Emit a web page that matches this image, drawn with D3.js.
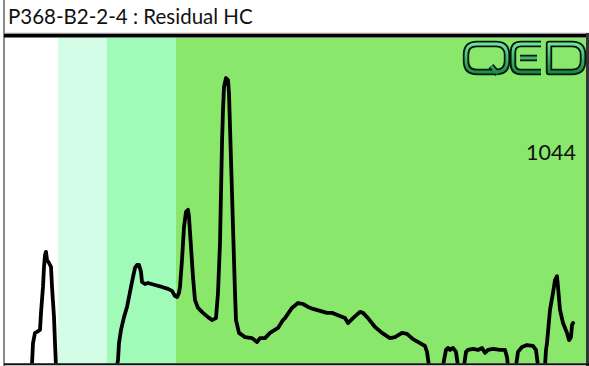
<!DOCTYPE html>
<html>
<head>
<meta charset="utf-8">
<script src="https://cdn.jsdelivr.net/npm/d3@7"></script>
<style>
  html, body { margin: 0; padding: 0; background: #ffffff; }
  svg { display: block; }
</style>
</head>
<body>
<svg id="chart" width="589" height="366"></svg>
<script>
// Residual hydrocarbon trace: retention time (min) vs detector response (%)
const chartTitle = "P368-B2-2-4 : Residual HC";
const totalLabel = "1044";

// Background zones along the time axis
const bandEdges = [0, 5.3, 10.2, 17.1, 58.1];
const bandColors = ["#ffffff", "#d4fde7", "#a0fbb8", "#89e86c"];

// Trace samples
const times = [
  0, 2.6, 2.7, 2.8, 3.0, 3.2, 3.5, 3.6, 3.8, 3.9, 4.0, 4.1, 4.2, 4.4, 4.6, 4.7, 4.9, 5.0, 5.1,
  11.2, 11.3, 11.4, 11.6, 11.9, 12.2, 12.4, 12.6, 12.8, 13.0, 13.2, 13.4, 13.6, 13.7, 14.0, 14.3,
  15.0, 15.7, 16.3, 16.7, 17.0, 17.2, 17.4, 17.5, 17.7, 17.9, 18.1, 18.3, 18.4, 18.6, 18.8, 19.0,
  19.3, 19.8, 20.3, 20.7, 21.1, 21.3, 21.5, 21.6, 21.7, 21.8, 21.9, 22.1, 22.3, 22.4, 22.5, 22.6,
  22.7, 22.8, 22.9, 23.0, 23.1, 23.4, 24.0, 24.7, 25.2, 25.5, 26.0, 26.5, 27.3, 27.8, 28.0, 28.7,
  29.3, 29.8, 30.3, 30.8, 31.5, 32.2, 32.7, 33.3, 34.0, 34.3, 34.8, 35.5, 35.8, 36.3, 37.0, 37.7,
  38.5, 39.0, 39.7, 40.2, 40.8, 41.5, 42.0, 42.2, 42.4,
  43.8, 43.9, 44.1, 44.3, 44.5, 44.8, 45.1, 45.3,
  45.9, 46.1, 46.3, 46.8, 47.3, 47.7, 48.0, 48.3, 48.8, 49.5, 50.0, 50.2, 50.3,
  51.1, 51.3, 51.7, 52.2, 52.8, 53.1, 53.3,
  54.0, 54.1, 54.2, 54.5, 54.8, 55.0, 55.2, 55.3, 55.5, 55.8, 56.2, 56.4, 56.6, 56.7, 56.8
];
const response = [
  0, 0, 0.6, 7.0, 10.1, 10.4, 11.0, 16.2, 24.1, 30.2, 33.8, 34.8, 32.3, 31.4, 30.2, 24.1, 14.9, 7.0, 0,
  0, 1.8, 7.0, 11.0, 14.9, 18.0, 21.0, 24.1, 27.1, 29.9, 30.8, 30.8, 28.7, 25.6, 25.0, 25.3,
  24.7, 24.1, 23.5, 22.9, 21.3, 21.0, 22.3, 24.1, 32.3, 42.4, 47.0, 47.6, 45.4, 36.3, 27.1, 20.1,
  17.7, 16.2, 14.9, 14.0, 14.6, 22.3, 37.5, 52.7, 68.0, 78.0, 85.1, 87.8, 87.2, 83.2, 72.9, 62.8,
  52.7, 42.4, 32.3, 22.3, 14.0, 10.1, 8.8, 8.5, 7.3, 8.5, 8.5, 10.1, 11.6, 14.0, 14.6, 17.7,
  19.2, 18.9, 18.0, 17.4, 16.8, 16.2, 16.2, 15.5, 14.6, 13.1, 14.6, 16.5, 16.2, 14.6, 11.9, 10.1,
  8.5, 8.8, 10.1, 9.8, 8.2, 7.0, 6.1, 4.3, 0,
  0, 1.8, 4.9, 5.5, 4.9, 5.5, 4.3, 0,
  0, 4.3, 4.9, 5.2, 4.9, 5.5, 4.0, 4.9, 5.2, 4.9, 4.9, 2.7, 0,
  0, 4.3, 5.8, 6.4, 6.1, 4.9, 0,
  0, 4.9, 7.0, 17.1, 22.3, 26.2, 27.4, 24.1, 17.1, 13.1, 10.1, 7.9, 8.8, 12.5, 13.1
];

const trace = times.map((t, i) => ({ t, v: response[i] }));

const svg = d3.select("#chart");
const plot = { left: 6, right: 586, top: 37.5, bottom: 363.5 };

const x = d3.scaleLinear().domain([0, 58.1]).range([5, 586]);
const y = d3.scaleLinear().domain([0, 100]).range([366, 38]);

svg.append("defs").append("clipPath").attr("id", "plot-clip")
  .append("rect")
  .attr("x", plot.left).attr("y", plot.top)
  .attr("width", plot.right - plot.left).attr("height", plot.bottom - plot.top);

const area = svg.append("g").attr("clip-path", "url(#plot-clip)");

// zone backgrounds
area.selectAll("rect.band")
  .data(bandColors)
  .join("rect")
  .attr("class", "band")
  .attr("x", (d, i) => x(bandEdges[i]))
  .attr("width", (d, i) => x(bandEdges[i + 1]) - x(bandEdges[i]))
  .attr("y", plot.top)
  .attr("height", plot.bottom - plot.top)
  .attr("fill", d => d);

// trace line
area.append("path")
  .datum(trace)
  .attr("fill", "none")
  .attr("stroke", "#000")
  .attr("stroke-width", 3.8)
  .attr("stroke-linejoin", "round")
  .attr("stroke-linecap", "round")
  .attr("d", d3.line().x(d => x(d.t)).y(d => y(d.v)));

// frame
svg.append("line").attr("x1", 4).attr("x2", 4).attr("y1", 0).attr("y2", 366)
  .attr("stroke", "#8c8c8c").attr("stroke-width", 2);
svg.append("line").attr("x1", 4).attr("x2", 589).attr("y1", 33.2).attr("y2", 33.2)
  .attr("stroke", "#b0b0b0").attr("stroke-width", 1);
svg.append("line").attr("x1", 4).attr("x2", 589).attr("y1", 35.6).attr("y2", 35.6)
  .attr("stroke", "#000").attr("stroke-width", 3.8);
svg.append("line").attr("x1", 587.5).attr("x2", 587.5).attr("y1", 33).attr("y2", 366)
  .attr("stroke", "#333").attr("stroke-width", 3);
svg.append("line").attr("x1", 4).attr("x2", 589).attr("y1", 364.3).attr("y2", 364.3)
  .attr("stroke", "#111").attr("stroke-width", 2);

// title
svg.append("text")
  .attr("x", 8).attr("y", 24)
  .attr("font-family", "Lato, 'Open Sans', sans-serif")
  .attr("font-size", 20.5)
  .attr("fill", "#111")
  .text(chartTitle);

// total
svg.append("text")
  .attr("x", 576).attr("y", 160)
  .attr("text-anchor", "end")
  .attr("font-family", "Lato, 'Open Sans', sans-serif")
  .attr("font-size", 21.5)
  .attr("fill", "#111")
  .text(totalLabel);

// QED logo
const grad = svg.select("defs").append("linearGradient")
  .attr("id", "logo-grad").attr("x1", 0).attr("y1", 0).attr("x2", 0).attr("y2", 1);
grad.append("stop").attr("offset", "0%").attr("stop-color", "#6fe39a");
grad.append("stop").attr("offset", "100%").attr("stop-color", "#1a8a42");

const logo = svg.append("g").attr("transform", "translate(465,44)");
const letterPaths = [
  // Q
  "M12,0 H31 Q42,0 42,11 V17 Q42,28 31,28 H12 Q1,28 1,17 V11 Q1,0 12,0 Z M26,22 L33,30",
  // E
  "M76,0 H56 Q48,0 48,8 V20 Q48,28 56,28 H76 M55,14 H72",
  // D
  "M84,0 H107 Q118,0 118,11 V17 Q118,28 107,28 H84 Z"
];
logo.selectAll("path.outer")
  .data(letterPaths).join("path")
  .attr("class", "outer")
  .attr("d", d => d)
  .attr("fill", "none")
  .attr("stroke", "#06180c")
  .attr("stroke-width", 6.4)
  .attr("stroke-linejoin", "round");
logo.selectAll("path.inner")
  .data(letterPaths).join("path")
  .attr("class", "inner")
  .attr("d", d => d)
  .attr("fill", "none")
  .attr("stroke", "url(#logo-grad)")
  .attr("stroke-width", 2.8)
  .attr("stroke-linejoin", "round");
</script>
</body>
</html>
